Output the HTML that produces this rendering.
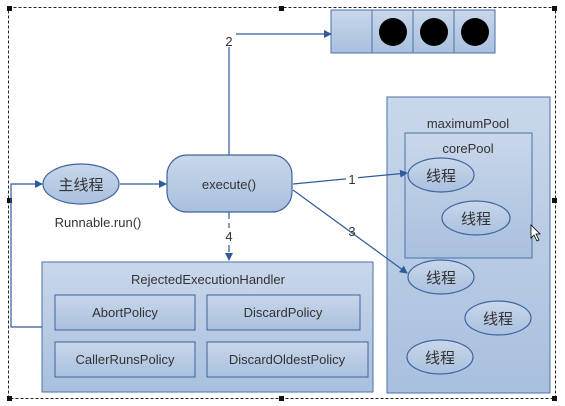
<!DOCTYPE html>
<html><head><meta charset="utf-8"><style>
html,body{margin:0;padding:0;background:#fff;width:565px;height:406px;overflow:hidden}
svg text{font-family:"Liberation Sans","Noto Sans CJK SC",sans-serif;fill:#333}
</style></head><body>
<svg width="565" height="406" viewBox="0 0 565 406" xmlns="http://www.w3.org/2000/svg">
<defs>
<linearGradient id="g" x1="0" y1="0" x2="0" y2="1"><stop offset="0" stop-color="#c9d7ea"/><stop offset="1" stop-color="#a9c0de"/></linearGradient>
<marker id="a" markerWidth="8" markerHeight="8" refX="7" refY="4" orient="auto" markerUnits="userSpaceOnUse"><path d="M0,0 L8,4 L0,8 z" fill="#2f5b9a"/></marker>
</defs>
<rect x="8.5" y="7.5" width="547" height="391" fill="none" stroke="#222" stroke-dasharray="3,2"/>
<g fill="#111"><rect x="7" y="6" width="5" height="5"/><rect x="279" y="6" width="5" height="5"/><rect x="552" y="6" width="5" height="5"/><rect x="7" y="396" width="5" height="5"/><rect x="279" y="396" width="5" height="5"/><rect x="552" y="396" width="5" height="5"/><rect x="7" y="198" width="5" height="5"/><rect x="552" y="198" width="5" height="5"/></g>
<!-- queue -->
<g stroke="#4a72a8" fill="url(#g)"><rect x="331" y="10" width="41" height="43"/><rect x="372" y="10" width="41" height="43"/><rect x="413" y="10" width="41" height="43"/><rect x="454" y="10" width="41" height="43"/></g>
<g fill="#000"><circle cx="393" cy="32" r="14"/><circle cx="434" cy="32" r="14"/><circle cx="475" cy="32" r="14"/></g>
<!-- maximumPool -->
<rect x="387" y="97" width="163" height="296" fill="url(#g)" stroke="#4a72a8"/>
<text x="468" y="128" font-size="13" text-anchor="middle">maximumPool</text>
<rect x="405" y="133" width="127" height="125" fill="url(#g)" stroke="#4a72a8"/>
<text x="468" y="153" font-size="13" text-anchor="middle">corePool</text>
<g fill="url(#g)" stroke="#3d64a0" stroke-width="1.2">
<ellipse cx="441" cy="175" rx="33" ry="17"/><ellipse cx="476" cy="218" rx="34" ry="17"/>
<ellipse cx="441" cy="277" rx="33" ry="17"/><ellipse cx="498" cy="318" rx="33" ry="17"/><ellipse cx="440" cy="357" rx="33" ry="17"/>
<ellipse cx="81" cy="184" rx="38" ry="20"/>
<rect x="167" y="155" width="125" height="57" rx="20"/>
</g>
<g font-size="15" text-anchor="middle"><text x="441" y="181">线程</text><text x="476" y="224">线程</text><text x="441" y="283">线程</text><text x="498" y="324">线程</text><text x="440" y="363">线程</text><text x="81" y="190">主线程</text></g>
<text x="229" y="189" font-size="13" text-anchor="middle">execute()</text>
<text x="98" y="227" font-size="13" text-anchor="middle">Runnable.run()</text>
<!-- Rejected -->
<rect x="42" y="262" width="331" height="130" fill="url(#g)" stroke="#4a72a8"/>
<text x="208" y="284" font-size="13" text-anchor="middle">RejectedExecutionHandler</text>
<g fill="url(#g)" stroke="#3d64a0"><rect x="55" y="295" width="140" height="35"/><rect x="207" y="295" width="153" height="35"/><rect x="55" y="342" width="140" height="35"/><rect x="207" y="342" width="161" height="35"/></g>
<g font-size="13" text-anchor="middle"><text x="125" y="317">AbortPolicy</text><text x="283" y="317">DiscardPolicy</text><text x="125" y="364">CallerRunsPolicy</text><text x="287" y="364">DiscardOldestPolicy</text></g>
<!-- connectors -->
<g stroke="#2f5b9a" stroke-width="1.2" fill="none">
<path d="M229,155 V34 H331" marker-end="url(#a)"/>
<path d="M120,184 H166" marker-end="url(#a)"/>
<path d="M42,327 H11 V184 H42" marker-end="url(#a)"/>
<path d="M229,212 V260" stroke-dasharray="7,4" marker-end="url(#a)"/>
<path d="M293,184 L407,173" marker-end="url(#a)"/>
<path d="M293,190 L407,273" marker-end="url(#a)"/>
</g>
<g font-size="13" text-anchor="middle"><rect x="222" y="33" width="14" height="14" fill="#fff"/><text x="229" y="46">2</text>
<rect x="222" y="228" width="14" height="14" fill="#fff"/><text x="229" y="241">4</text>
<rect x="346" y="172" width="12" height="14" fill="#fff"/><text x="352" y="184">1</text>
<text x="352" y="236">3</text></g>
<path d="M531,225 v13 l3,-3 l3,6 l2,-1 l-3,-6 h4 z" fill="#fff" stroke="#000" stroke-width="0.8"/>
</svg>
</body></html>
